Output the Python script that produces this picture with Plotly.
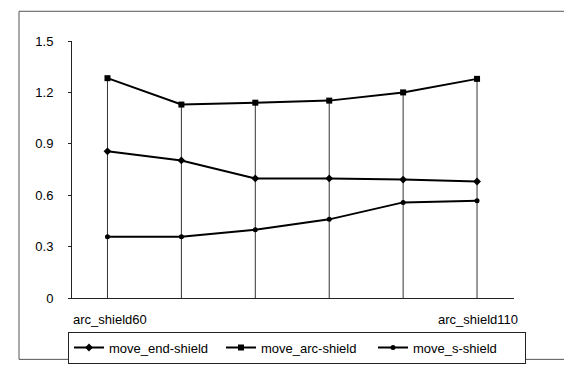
import plotly.graph_objects as go

# ---- data ----
x_labels = ["arc_shield60", "", "", "", "", "arc_shield110"]
x_pos = [0, 1, 2, 3, 4, 5]
move_end_shield = [0.856, 0.803, 0.698, 0.698, 0.691, 0.680]
move_arc_shield = [1.283, 1.129, 1.140, 1.152, 1.200, 1.279]
move_s_shield = [0.358, 0.358, 0.399, 0.459, 0.558, 0.567]
y_ticks = [0, 0.3, 0.6, 0.9, 1.2, 1.5]
y_tick_text = ["0", "0.3", "0.6", "0.9", "1.2", "1.5"]

W, H = 572, 368
L, R, T, B = 64, 66, 33, 67
pw, ph = W - L - R, H - T - B


def px_x(p):
    return (p - L) / pw


def px_y(p):
    return (H - B - p) / ph


font = "Liberation Sans, Arial, sans-serif"
fig = go.Figure()

# drop lines from highest point to axis
dx, dy = [], []
for i, xv in enumerate(x_pos):
    top = max(move_end_shield[i], move_arc_shield[i], move_s_shield[i])
    dx += [xv, xv, None]
    dy += [0, top, None]
fig.add_trace(go.Scatter(x=dx, y=dy, mode="lines", line=dict(color="#333", width=1),
                         showlegend=False, hoverinfo="skip"))

fig.add_trace(go.Scatter(x=x_pos, y=move_end_shield, name="move_end-shield", mode="lines+markers",
                         line=dict(color="black", width=2),
                         marker=dict(symbol="diamond", size=6, color="black")))
fig.add_trace(go.Scatter(x=x_pos, y=move_arc_shield, name="move_arc-shield", mode="lines+markers",
                         line=dict(color="black", width=2),
                         marker=dict(symbol="square", size=6, color="black")))
fig.add_trace(go.Scatter(x=x_pos, y=move_s_shield, name="move_s-shield", mode="lines+markers",
                         line=dict(color="black", width=2),
                         marker=dict(symbol="circle", size=5, color="black")))

annotations = []
for i, lab in enumerate(x_labels):
    if not lab:
        continue
    if i == 0:
        annotations.append(dict(x=px_x(63), y=px_y(323), xref="paper", yref="paper", text=lab,
                                showarrow=False, xanchor="left", yanchor="middle",
                                font=dict(size=13, color="black", family=font)))
    else:
        annotations.append(dict(x=px_x(512), y=px_y(323), xref="paper", yref="paper", text=lab,
                                showarrow=False, xanchor="right", yanchor="middle",
                                font=dict(size=13, color="black", family=font)))

fig.update_layout(
    width=W, height=H,
    margin=dict(l=L, r=R, t=T, b=B),
    paper_bgcolor="white", plot_bgcolor="white",
    font=dict(family=font, size=13, color="black"),
    xaxis=dict(range=[-0.48, 5.5], showgrid=False, zeroline=False, showticklabels=False,
               showline=True, linecolor="#222", linewidth=1, ticks=""),
    yaxis=dict(range=[0, 1.5], tickvals=y_ticks, ticktext=y_tick_text, showgrid=False,
               zeroline=False, showline=True, linecolor="#222", linewidth=1,
               ticks="outside", ticklen=3, tickcolor="#222", ticklabelstandoff=12),
    showlegend=True,
    legend=dict(orientation="h", x=px_x(60), y=px_y(336), xanchor="left", yanchor="top",
                bordercolor="#222", borderwidth=1, bgcolor="white",
                font=dict(size=13, family=font), entrywidth=107, entrywidthmode="pixels",
                tracegroupgap=0),
    annotations=annotations,
    shapes=[dict(type="rect", xref="paper", yref="paper",
                 x0=px_x(11), x1=px_x(565), y0=px_y(2), y1=px_y(365),
                 line=dict(color="#555", width=1))],
)

fig.write_html("out.html")
